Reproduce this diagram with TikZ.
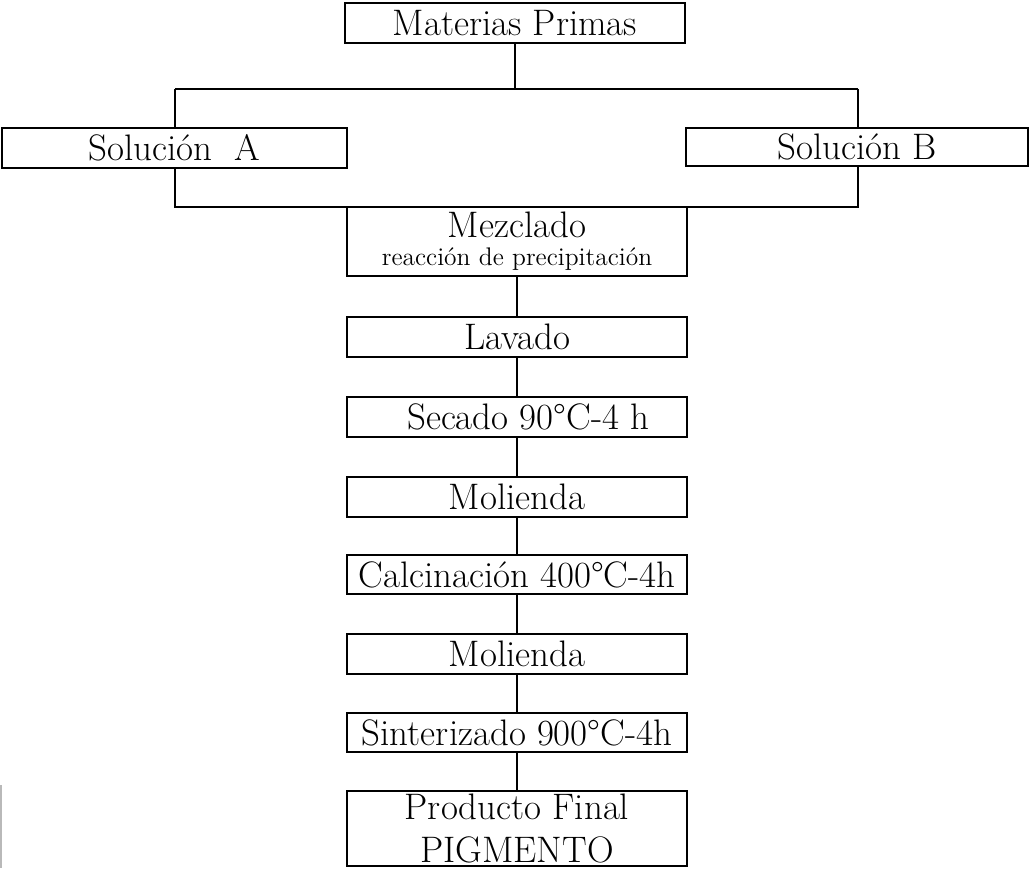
\documentclass[tikz,border=0pt]{standalone}
\usepackage{tikz}
\usetikzlibrary{positioning,calc}
\tikzset{
  procbox/.style={draw=black, line width=0.9pt, minimum width=6.8cm, minimum height=0.8cm, inner sep=0pt, align=center, font=\fontsize{21}{25}\selectfont},
  flowline/.style={draw=black, line width=0.9pt}
}
\begin{document}
\begin{tikzpicture}[x=0.02cm, y=-0.02cm]
    \useasboundingbox (0,0) rectangle (1030,868);

    \node[procbox] (mp) at (515,23) {Materias Primas};
    \node[procbox, minimum width=6.9cm] (solA) at (174.5,148) {Soluci\'on~~A};
    \node[procbox, minimum width=6.84cm, minimum height=0.76cm] (solB) at (857,147) {Soluci\'on B};
    \node[procbox, minimum height=1.38cm] (mez) at (517,241.5) {Mezclado\\[-9pt]{\fontsize{14.5}{16}\selectfont reacci\'on de precipitaci\'on}};
    \node[procbox] (lav) at (517,337) {Lavado};
    \node[procbox] (sec) at (517,417) {\ \ Secado 90\textdegree C-4 h};
    \node[procbox] (mol1) at (517,497) {Molienda};
    \node[procbox, minimum height=0.78cm] (cal) at (517,574.5) {Calcinaci\'on 400\textdegree C-4h};
    \node[procbox] (mol2) at (517,654) {Molienda};
    \node[procbox, minimum height=0.78cm] (sin) at (517,732.5) {Sinterizado 900\textdegree C-4h};
    \node[procbox, minimum height=1.5cm] (prod) at (517,828.5) {Producto Final\\PIGMENTO};

    \coordinate (splitL) at (175,89);
    \coordinate (splitR) at (858,89);
    \coordinate (joinL) at (175,207);
    \coordinate (joinR) at (858,207);

    \draw[flowline] (mp.south) -- (mp.south |- splitL);
    \draw[flowline] (splitL) -- (splitR);
    \draw[flowline] (splitL) -- (splitL |- solA.north);
    \draw[flowline] (splitR) -- (splitR |- solB.north);
    \draw[flowline] (joinL |- solA.south) -- (joinL) -- (joinR) -- (joinR |- solB.south);

    \draw[flowline] (mez) -- (lav);
    \draw[flowline] (lav) -- (sec);
    \draw[flowline] (sec) -- (mol1);
    \draw[flowline] (mol1) -- (cal);
    \draw[flowline] (cal) -- (mol2);
    \draw[flowline] (mol2) -- (sin);
    \draw[flowline] (sin) -- (prod);

    \draw[gray!55, line width=1pt] (1,785) -- (1,868);
\end{tikzpicture}
\end{document}
